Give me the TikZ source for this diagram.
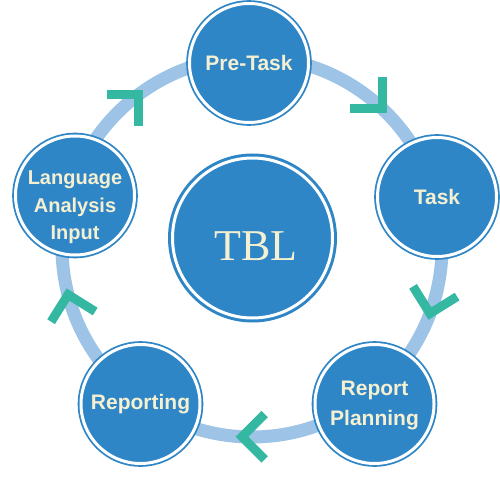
\documentclass[tikz,border=0pt]{standalone}
\usepackage{fontspec}
\setmainfont{Liberation Sans}
\newfontfamily\tblfont{Liberation Serif}
\usetikzlibrary{calc}
\definecolor{nodeblue}{HTML}{2E86C6}
\definecolor{ringblue}{HTML}{9DC3E6}
\definecolor{chevgreen}{HTML}{35B8A2}
\definecolor{cream}{HTML}{F5F0D2}
\begin{document}
\begin{tikzpicture}[x=1pt,y=1pt,
  stage/.style={circle, inner sep=0pt, minimum size=119pt, fill=nodeblue, draw=nodeblue,
    line width=1.8pt, double=white, double distance=3pt},
  hub/.style={circle, inner sep=0pt, minimum size=160pt, fill=nodeblue, draw=nodeblue,
    line width=3pt, double=white, double distance=3pt},
  stagetext/.style={text=cream, font=\bfseries\fontsize{21}{30}\selectfont, align=center},
  chev/.style={draw=chevgreen, line width=9pt, line cap=butt, line join=miter},
  ring/.style={draw=ringblue, line width=13pt}]
\useasboundingbox (0,-500) rectangle (500,0);
\coordinate (C) at (252,-247);
\draw[ring] (C) circle[radius=190];
\foreach \a/\o/\n in {46.7/45/c1, -20.5/-13/c2, -93/-90/c3, -165.5/-167/c4, 126.5/135/c5} {
  \coordinate (\n) at ($(C)+(\a:190)$);
  \draw[chev] ($(\n)+(\o+45:32)$) -- (\n) -- ($(\n)+(\o+135:32)$);
}
\node[hub, label={[text=cream, font=\tblfont\fontsize{44}{50}\selectfont, xshift=3.5pt, yshift=-8.5pt]center:TBL}] (tbl) at (252.5,-238) {};
\node[stage, label={[stagetext]center:Pre-Task}] (pre) at (249,-63) {};
\node[stage, label={[stagetext]center:Task}] (task) at (437,-197) {};
\node[stage, label={[stagetext, yshift=-1.5pt]center:Report\\Planning}] (plan) at (374.5,-404) {};
\node[stage, label={[stagetext]center:Reporting}] (rep) at (140.5,-404) {};
\node[stage, label={[stagetext, font=\bfseries\fontsize{20}{27.5}\selectfont, yshift=-12pt]center:Language\\Analysis\\Input}] (lang) at (75,-195.5) {};
\end{tikzpicture}
\end{document}
